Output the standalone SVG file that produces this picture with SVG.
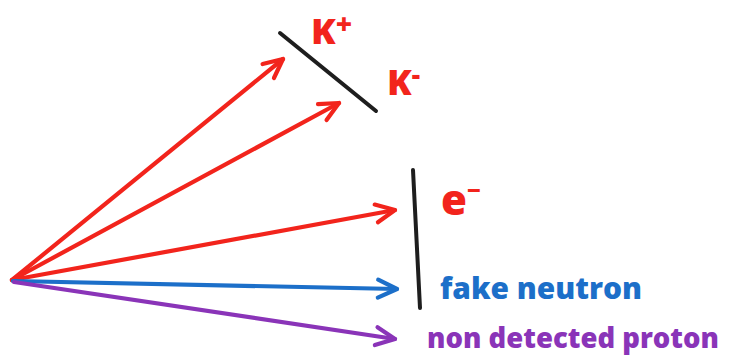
<svg xmlns="http://www.w3.org/2000/svg" width="734" height="363" viewBox="0 0 734 363">
<style>
.a{fill:none;stroke-width:4.2;stroke-linecap:round;stroke-linejoin:round}
.r{stroke:#f2241c}
.b{stroke:#1c6fc9}
.p{stroke:#8a34b8}
.k{fill:none;stroke:#1e1e1e;stroke-width:4;stroke-linecap:round}
.t{font-family:"Open Sans","Liberation Sans",sans-serif;font-weight:800}
</style>
<defs>
<marker id="mr" markerUnits="userSpaceOnUse" markerWidth="40" markerHeight="40" refX="0" refY="0" viewBox="-30 -20 40 40" orient="auto" overflow="visible"><path d="M-19 -9 L0 0 L-19 9" fill="none" stroke="#f2241c" stroke-width="4.2" stroke-linecap="round" stroke-linejoin="round"/></marker>
<marker id="mb" markerUnits="userSpaceOnUse" markerWidth="40" markerHeight="40" refX="0" refY="0" viewBox="-30 -20 40 40" orient="auto" overflow="visible"><path d="M-19 -9 L0 0 L-19 9" fill="none" stroke="#1c6fc9" stroke-width="4.2" stroke-linecap="round" stroke-linejoin="round"/></marker>
<marker id="mp" markerUnits="userSpaceOnUse" markerWidth="40" markerHeight="40" refX="0" refY="0" viewBox="-30 -20 40 40" orient="auto" overflow="visible"><path d="M-19 -9 L0 0 L-19 9" fill="none" stroke="#8a34b8" stroke-width="4.2" stroke-linecap="round" stroke-linejoin="round"/></marker>
</defs>
<g id="connectors">
<path class="a r" d="M12 280 L283 59" marker-end="url(#mr)"/>
<path class="a r" d="M12 280 L339 103" marker-end="url(#mr)"/>
<path class="a r" d="M12 280 L395 210" marker-end="url(#mr)"/>
<path class="a b" d="M13 281 L397 289" marker-end="url(#mb)"/>
<path class="a p" d="M14 282 L395 339" marker-end="url(#mp)"/>
</g>
<g id="detector-kaon">
<path class="k" d="M280 33 L376 111"/>
</g>
<g id="detector-electron">
<path class="k" d="M413 170 L420 308"/>
</g>
<g id="label-kplus"><text class="t" x="311" y="44" font-size="36" fill="#f2241c">K<tspan font-size="28" dy="-10">+</tspan></text></g>
<g id="label-kminus"><text class="t" x="387" y="95" font-size="36" fill="#f2241c">K<tspan font-size="26" dy="-11">-</tspan></text></g>
<g id="label-electron"><text class="t" x="441" y="215" font-size="42" fill="#f2241c">e<tspan font-size="24" dy="-16">−</tspan></text></g>
<g id="label-neutron"><text class="t" x="440" y="299" font-size="30" fill="#1c6fc9" textLength="202" lengthAdjust="spacingAndGlyphs">fake neutron</text></g>
<g id="label-proton"><text class="t" x="427" y="348" font-size="29" fill="#8a34b8" textLength="292" lengthAdjust="spacingAndGlyphs">non detected proton</text></g>
</svg>
